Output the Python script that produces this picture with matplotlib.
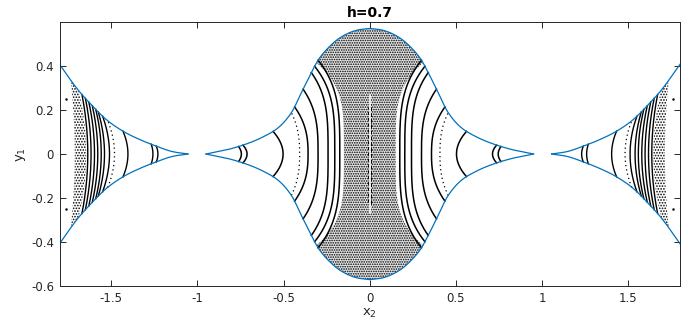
import numpy as np
import matplotlib.pyplot as plt
from matplotlib.patches import Polygon

# ---- data (x2 >= 0 half, mirrored for x2 < 0) ----

# boundary of the allowed region, central lobe (upper branch)
cen_bx = [0.0, 0.08, 0.155, 0.22, 0.29, 0.339, 0.397, 0.455, 0.532, 0.629, 0.726, 0.823, 0.90, 0.95]
cen_by = [0.571, 0.562, 0.537, 0.499, 0.438, 0.370, 0.279, 0.188, 0.119, 0.074, 0.043, 0.0205, 0.008, 0.0]

# boundary of the side lobe (upper branch)
side_bx = [1.055, 1.15, 1.239, 1.335, 1.432, 1.529, 1.626, 1.703, 1.8]
side_by = [0.0, 0.012, 0.036, 0.066, 0.104, 0.157, 0.233, 0.302, 0.408]

# invariant curves in the central lobe: x2 at y1=0, x2 where they meet the boundary
cen_arc_x0 = [0.174, 0.203, 0.242, 0.300, 0.358, 0.407, 0.503, 0.712, 0.745]
cen_arc_xe = [0.300, 0.320, 0.339, 0.387, 0.436, 0.455, 0.561, 0.736, 0.761]
cen_arc_pow = [3.5, 3.5, 3.5, 3, 2.5, 2.5, 2, 2, 2]
cen_arc_dot = [False, False, False, False, False, True, False, False, False]

# invariant curves in the side lobes
side_arc_x0 = [1.229, 1.258, 1.403, 1.481, 1.510, 1.539, 1.558, 1.578, 1.597, 1.617, 1.636]
side_arc_xe = [1.239, 1.268, 1.432, 1.520, 1.550, 1.575, 1.590, 1.610, 1.630, 1.650, 1.670]
side_arc_dot = [False, False, False, True, False, False, False, False, False, False, False]

# chaotic sea (centre) and chaotic band (side lobes)
sea_x0, sea_xe, sea_ye = 0.15, 0.30, 0.408
band_in = (1.645, 1.69)
band_out = (1.712, 1.735)
mid_chain = 0.27   # half length of the chain on x2 = 0

# stray chaotic points outside the band
stray_x2 = [1.758, 1.758, -1.761, -1.761]
stray_y1 = [0.251, -0.25, 0.251, -0.25]

blue = '#0072BD'
ink = '#262626'


def smooth(xs, ys, n=12):
    # Catmull-Rom through the read points
    p = np.column_stack([xs, ys]).astype(float)
    p = np.vstack([2 * p[0] - p[1], p, 2 * p[-1] - p[-2]])
    out = []
    t = np.linspace(0, 1, n, endpoint=False)[:, None]
    for i in range(1, len(p) - 2):
        p0, p1, p2, p3 = p[i - 1], p[i], p[i + 1], p[i + 2]
        out.append(0.5 * (2 * p1 + (-p0 + p2) * t + (2 * p0 - 5 * p1 + 4 * p2 - p3) * t ** 2
                          + (-p0 + 3 * p1 - 3 * p2 + p3) * t ** 3))
    out.append(p[-2][None, :])
    out = np.vstack(out)
    return out[:, 0], out[:, 1]


def arc(x0, xe, bx, by, p=2, n=200):
    ye = np.interp(xe, bx, by)
    y = np.linspace(-ye, ye, n)
    x = x0 + (xe - x0) * np.abs(y / ye) ** p
    return x, y


plt.rcParams['font.family'] = 'DejaVu Sans'
plt.rcParams['hatch.linewidth'] = 0.8

fig = plt.figure(figsize=(6.81, 3.35), dpi=100)
ax = fig.add_axes([0.0874, 0.1463, 0.9112, 0.7866])

cbx, cby = smooth(cen_bx, cen_by)
sbx, sby = smooth(side_bx, side_by)

# chaotic sea in the central lobe
yy = np.linspace(-cen_by[0], cen_by[0], 400)
xb = np.interp(np.abs(yy), cby[::-1], cbx[::-1])
xs = sea_x0 + (sea_xe - sea_x0) * (np.abs(yy) / sea_ye) ** 4
w = np.minimum(xb, xs)
sea = np.column_stack([np.r_[w, -w[::-1]], np.r_[yy, yy[::-1]]])
ax.add_patch(Polygon(sea, closed=True, facecolor='#e6e6e6', hatch='.......', edgecolor='k', lw=0))

# chain on x2 = 0
ax.plot([0, 0], [-mid_chain, mid_chain], color='white', lw=1.1)
ax.plot([0.009, 0.009], [-mid_chain * 0.85, mid_chain * 0.85], color='k', lw=0.7, ls=(0, (4, 2)))
ax.plot([-0.009, -0.009], [-mid_chain * 0.8, mid_chain * 0.8], color='k', lw=0.7, ls=(0, (3, 3)))

# chaotic band in the side lobes
xi, yi = arc(band_in[0], band_in[1], sbx, sby)
xo, yo = arc(band_out[0], band_out[1], sbx, sby)
band = np.column_stack([np.r_[xi, xo[::-1]], np.r_[yi, yo[::-1]]])
for s in (1, -1):
    ax.add_patch(Polygon(band * [s, 1], closed=True, fill=False, hatch='......', edgecolor='k', lw=0))

# invariant curves
for s in (1, -1):
    for x0, xe, p, d in zip(cen_arc_x0, cen_arc_xe, cen_arc_pow, cen_arc_dot):
        x, y = arc(x0, xe, cbx, cby, p)
        if d:
            ax.plot(s * x, y, color='k', lw=0.9, ls=(0, (1, 2.5)))
        else:
            ax.plot(s * x, y, color='k', lw=1.1)
    for x0, xe, d in zip(side_arc_x0, side_arc_xe, side_arc_dot):
        x, y = arc(x0, xe, sbx, sby, 2)
        if d:
            ax.plot(s * x, y, color='k', lw=0.9, ls=(0, (1, 2.5)))
        else:
            ax.plot(s * x, y, color='k', lw=1.0)

ax.plot(stray_x2, stray_y1, 'k.', ms=1.5)

# boundary curves
cx = np.r_[-cbx[::-1], cbx[1:]]
cy = np.r_[cby[::-1], cby[1:]]
ax.plot(cx, cy, color=blue, lw=0.9)
ax.plot(cx, -cy, color=blue, lw=0.9)
for s in (1, -1):
    ax.plot(s * sbx, sby, color=blue, lw=0.9)
    ax.plot(s * sbx, -sby, color=blue, lw=0.9)

ax.set_xlim(-1.8, 1.8)
ax.set_ylim(-0.6, 0.598)
ax.set_xticks([-1.5, -1, -0.5, 0, 0.5, 1, 1.5])
ax.set_xticklabels(['-1.5', '-1', '-0.5', '0', '0.5', '1', '1.5'])
ax.set_yticks([-0.6, -0.4, -0.2, 0, 0.2, 0.4])
ax.set_yticklabels(['-0.6', '-0.4', '-0.2', '0', '0.2', '0.4'])
ax.tick_params(direction='in', length=4, width=0.7, colors=ink, labelsize=8.5,
               top=True, right=True, pad=4)
for sp in ax.spines.values():
    sp.set_color(ink)
    sp.set_linewidth(0.7)

ax.set_xlabel('x$_2$', fontsize=9.5, color=ink, labelpad=2)
ax.set_ylabel('y$_1$', fontsize=9.5, color=ink, labelpad=2)
ax.set_title('h=0.7', fontsize=10, fontweight='bold', pad=4)

fig.savefig('out.png', dpi=100)
